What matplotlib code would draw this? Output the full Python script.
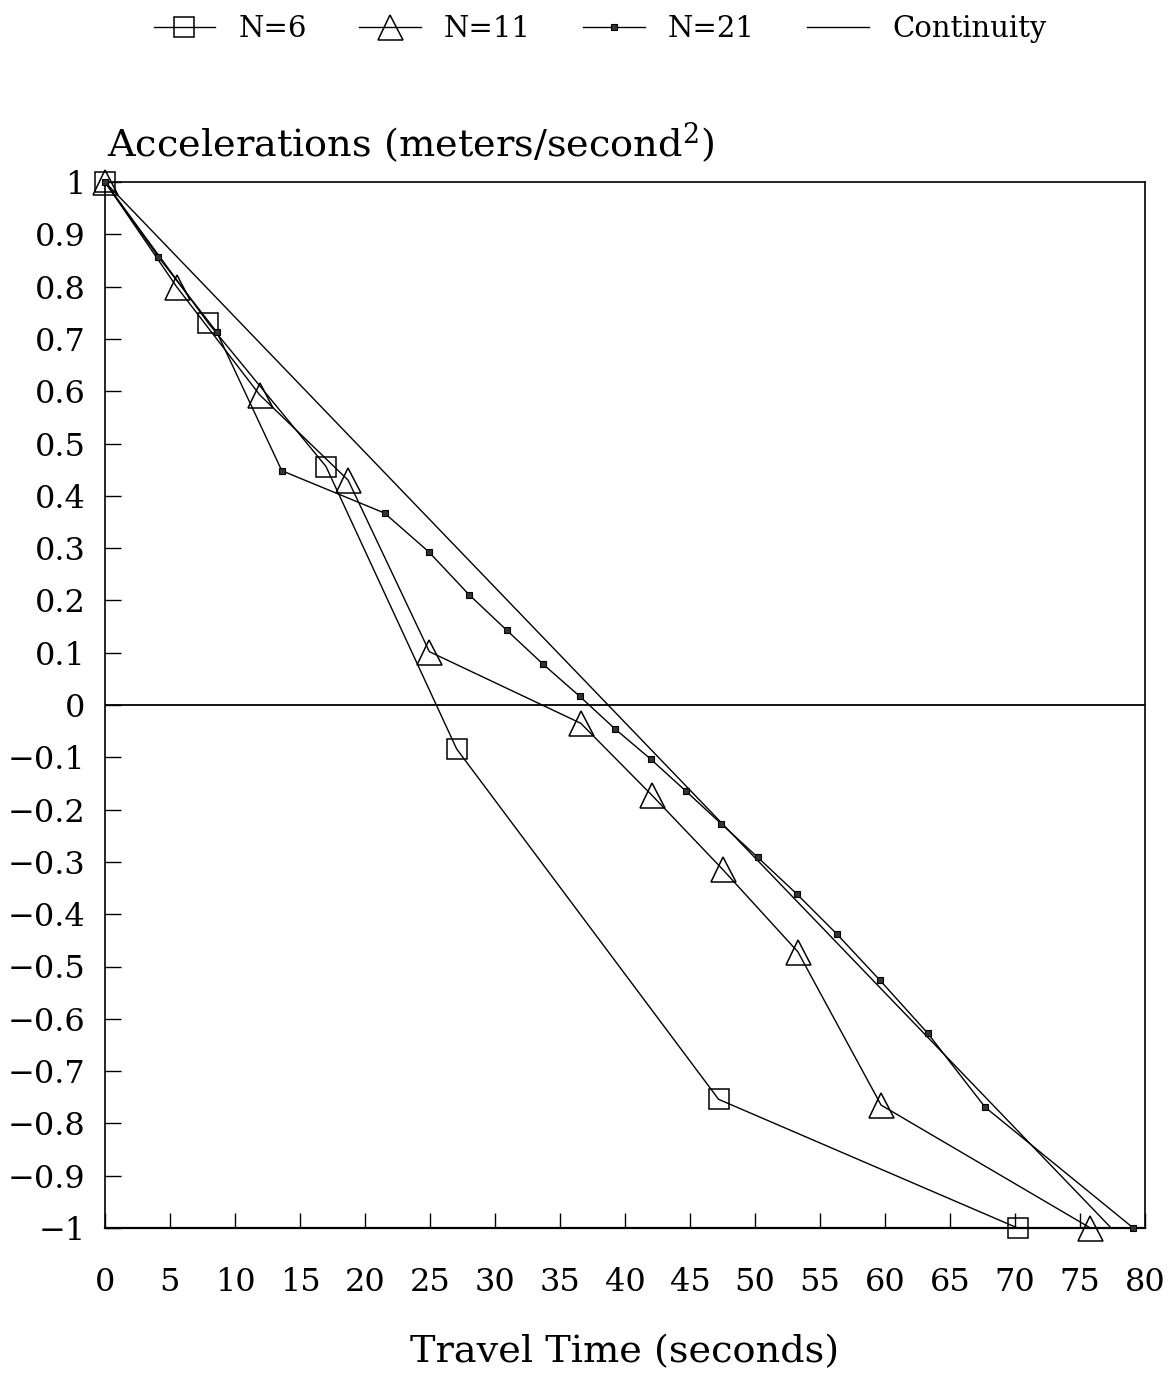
import matplotlib
matplotlib.use("Agg")
import matplotlib.pyplot as plt
import numpy as np

# travel time (s) and acceleration (m/s^2) for each discretisation
t6 = [0, 7.95, 17.0, 27.05, 47.2, 70.2]
a6 = [1.0, 0.730, 0.456, -0.084, -0.754, -1.0]

t11 = [0, 5.5, 11.9, 18.7, 24.95, 36.6, 42.05, 47.5, 53.3, 59.7, 75.8]
a11 = [1.0, 0.80, 0.593, 0.430, 0.102, -0.035, -0.172, -0.314, -0.472, -0.765, -1.0]

t21 = [0, 4.1, 8.6, 13.6, 21.5, 24.9, 28.0, 30.9, 33.7, 36.5, 39.2, 42.0,
       44.7, 47.4, 50.2, 53.2, 56.3, 59.6, 63.3, 67.7, 79.1]
a21 = [1.0, 0.857, 0.713, 0.448, 0.367, 0.293, 0.211, 0.143, 0.078, 0.017,
       -0.045, -0.104, -0.165, -0.227, -0.291, -0.361, -0.438, -0.526,
       -0.628, -0.769, -1.0]

t_cont = [0, 77.4]
a_cont = [1.0, -1.0]

x_ticks = list(range(0, 81, 5))
y_ticks = [round(v, 1) for v in np.arange(-1.0, 1.01, 0.1)]

plt.rcParams['font.family'] = ['DejaVu Serif']
plt.rcParams['mathtext.fontset'] = 'dejavuserif'

fig = plt.figure(figsize=(11.75, 13.75), dpi=100)
ax = fig.add_axes([105 / 1175, 1 - 1228 / 1375, 1040 / 1175, 1046 / 1375])

lw = 1.0
ax.plot(t6, a6, color='black', lw=lw, marker='s', ms=15, mfc='none', mec='black',
        mew=1.1, clip_on=False, label='N=6', zorder=3)
ax.plot(t11, a11, color='black', lw=lw, marker='^', ms=18, mfc='none', mec='black',
        mew=1.1, clip_on=False, label='N=11', zorder=3)
ax.plot(t21, a21, color='black', lw=lw, marker='s', ms=4.5, mfc='#333333', mec='black',
        mew=0.8, clip_on=False, label='N=21', zorder=3)
ax.plot(t_cont, a_cont, color='black', lw=lw, label='Continuity', zorder=2)
ax.axhline(0, color='black', lw=1.3, zorder=1)

ax.set_xlim(0, 80)
ax.set_ylim(-1, 1)

ax.set_xticks(x_ticks)
ax.set_xticklabels([str(v) for v in x_ticks])
ax.set_yticks(y_ticks)
ylabels = []
for v in y_ticks:
    if abs(v - round(v)) < 1e-9:
        s = str(abs(int(round(v))))
    else:
        s = f"{abs(v):.1f}"
    if v < 0:
        s = "\u2212" + s
    ylabels.append(s)
ax.set_yticklabels(ylabels)

ax.tick_params(axis='x', direction='in', length=10.5, width=1.0, pad=28,
               labelsize=23, top=False)
ax.tick_params(axis='y', direction='in', length=11.5, width=1.0, pad=14,
               labelsize=23, right=False)
for sp in ax.spines.values():
    sp.set_linewidth(1.2)
ax.spines['bottom'].set_linewidth(1.6)

fig.text(107 / 1175, 1 - 157 / 1375, r"Accelerations (meters/second$^{2}$)",
         fontsize=27.5, ha='left', va='baseline')
fig.text(625 / 1175, 1 - 1352 / 1375, "Travel Time (seconds)",
         fontsize=27.5, ha='center', va='center')

fig.legend(loc='center', bbox_to_anchor=(600 / 1175, 1 - 29 / 1375), ncol=4,
           frameon=False, fontsize=21, handlelength=2.1, handletextpad=0.8,
           columnspacing=1.8, markerscale=1.0)

fig.savefig("out.png", dpi=100)
